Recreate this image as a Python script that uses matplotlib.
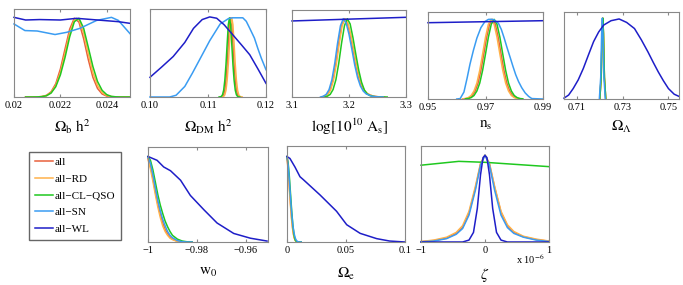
import matplotlib.pyplot as plt
from matplotlib.lines import Line2D

plt.rcParams['font.family'] = ['Liberation Serif', 'DejaVu Serif']
plt.rcParams['mathtext.fontset'] = 'stix'

# series names / colours
NAMES = ['all', 'all\u2212RD', 'all\u2212CL\u2212QSO', 'all\u2212SN', 'all\u2212WL']
COLORS = ['#E8603C', '#FFB24A', '#1FC81F', '#3A9CF2', '#1E1EC8']

# ---- Omega_b h^2 ----
OB_X = [0.0205, 0.0208, 0.0210, 0.0212, 0.0214, 0.0216, 0.0218, 0.0220, 0.0222, 0.0224, 0.0226,
        0.0228, 0.0230, 0.0232, 0.0234, 0.0236, 0.0238, 0.0240, 0.0242, 0.0244, 0.0246, 0.0250]
OB_ALL = [0, 0, 0.001, 0.005, 0.019, 0.059, 0.151, 0.319, 0.546, 0.771, 0.895,
          0.851, 0.664, 0.428, 0.224, 0.097, 0.034, 0.010, 0.003, 0, 0, 0]
OB_RD = [0, 0, 0.001, 0.005, 0.016, 0.051, 0.132, 0.279, 0.495, 0.729, 0.878,
         0.878, 0.729, 0.495, 0.279, 0.132, 0.051, 0.016, 0.005, 0.001, 0, 0]
OB_CL = [0, 0, 0.001, 0.004, 0.014, 0.045, 0.117, 0.252, 0.450, 0.684, 0.855,
         0.895, 0.783, 0.567, 0.347, 0.176, 0.075, 0.026, 0.007, 0.002, 0, 0]
OB_SN_X = [0.0200, 0.02047, 0.0210, 0.02177, 0.02227, 0.02284, 0.02356, 0.0242, 0.0245, 0.0250]
OB_SN = [0.83, 0.755, 0.75, 0.71, 0.735, 0.78, 0.87, 0.905, 0.87, 0.72]
OB_WL_X = [0.0200, 0.0205, 0.0211, 0.0220, 0.0227, 0.0236, 0.0245, 0.0250]
OB_WL = [0.905, 0.875, 0.88, 0.875, 0.894, 0.875, 0.856, 0.837]

# ---- Omega_DM h^2 ----
NARROW_DM = [0, 0.002, 0.007, 0.025, 0.077, 0.19, 0.37, 0.60, 0.82, 0.90,
             0.82, 0.60, 0.37, 0.19, 0.077, 0.025, 0.007, 0.002, 0]
DM_ALL_X = [0.1121, 0.1123, 0.1125, 0.1127, 0.1129, 0.1131, 0.1133, 0.1135, 0.1137, 0.1139,
            0.1141, 0.1143, 0.1145, 0.1147, 0.1149, 0.1151, 0.1153, 0.1155, 0.1157]
DM_RD_X = [0.1123, 0.1125, 0.1127, 0.1129, 0.1131, 0.1133, 0.1135, 0.1137, 0.1139, 0.1141,
           0.1143, 0.1145, 0.1147, 0.1149, 0.1151, 0.1153, 0.1155, 0.1157, 0.1159]
DM_CL_X = [0.1119, 0.1121, 0.1123, 0.1125, 0.1127, 0.1129, 0.1131, 0.1133, 0.1135, 0.1137,
           0.1139, 0.1141, 0.1143, 0.1145, 0.1147, 0.1149, 0.1151, 0.1153, 0.1155]
DM_SN_X = [0.100, 0.1034, 0.1045, 0.106, 0.1073, 0.1086, 0.1103, 0.1121, 0.1135, 0.1142,
           0.1160, 0.1166, 0.1172, 0.1180, 0.1186, 0.1192, 0.1200]
DM_SN = [0, 0, 0.02, 0.12, 0.27, 0.43, 0.64, 0.83, 0.89, 0.90, 0.90, 0.86, 0.78, 0.67, 0.55, 0.44, 0.31]
DM_WL_X = [0.100, 0.102, 0.104, 0.106, 0.1075, 0.109, 0.1103, 0.1115, 0.1128, 0.1143,
           0.1158, 0.1172, 0.1186, 0.1200]
DM_WL = [0.224, 0.34, 0.46, 0.62, 0.78, 0.88, 0.91, 0.895, 0.82, 0.705, 0.59, 0.48, 0.32, 0.155]

# ---- log[10^10 A_s] ----
AS_PROFILE = [0, 0.009, 0.030, 0.085, 0.198, 0.387, 0.621, 0.819, 0.90, 0.851, 0.72,
              0.549, 0.369, 0.225, 0.126, 0.068, 0.036, 0.009, 0.002, 0]
AS_CL = [0, 0.009, 0.030, 0.085, 0.198, 0.387, 0.621, 0.819, 0.90, 0.84, 0.68,
         0.49, 0.31, 0.17, 0.08, 0.035, 0.015, 0.002, 0, 0]
AS_ALL_X = [3.152, 3.157, 3.162, 3.167, 3.172, 3.177, 3.182, 3.187, 3.192, 3.197, 3.202,
            3.207, 3.212, 3.217, 3.222, 3.227, 3.232, 3.242, 3.252, 3.262]
AS_RD_X = [3.153, 3.158, 3.163, 3.168, 3.173, 3.178, 3.183, 3.188, 3.193, 3.198, 3.203,
           3.208, 3.213, 3.218, 3.223, 3.228, 3.233, 3.243, 3.253, 3.263]
AS_CL_X = [3.157, 3.162, 3.167, 3.172, 3.177, 3.182, 3.187, 3.192, 3.197, 3.202, 3.207,
           3.212, 3.217, 3.222, 3.227, 3.232, 3.237, 3.247, 3.257, 3.267]
AS_SN_X = [3.150, 3.155, 3.160, 3.165, 3.170, 3.175, 3.180, 3.185, 3.190, 3.195, 3.200,
           3.205, 3.210, 3.215, 3.220, 3.225, 3.230, 3.240, 3.250, 3.260]
AS_WL_X = [3.1, 3.3]
AS_WL = [0.874, 0.916]

# ---- n_s ----
NS_PROFILE = [0.002, 0.005, 0.016, 0.04, 0.092, 0.183, 0.33, 0.517, 0.71, 0.859, 0.916,
              0.859, 0.71, 0.517, 0.33, 0.183, 0.092, 0.04, 0.016, 0.005, 0.002]
NS_ALL_X = [0.9624, 0.9634, 0.9644, 0.9654, 0.9664, 0.9674, 0.9684, 0.9694, 0.9704, 0.9714, 0.9724,
            0.9734, 0.9744, 0.9754, 0.9764, 0.9774, 0.9784, 0.9794, 0.9804, 0.9814, 0.9824]
NS_RD_X = [0.9620, 0.9630, 0.9640, 0.9650, 0.9660, 0.9670, 0.9680, 0.9690, 0.9700, 0.9710, 0.9720,
           0.9730, 0.9740, 0.9750, 0.9760, 0.9770, 0.9780, 0.9790, 0.9800, 0.9810, 0.9820]
NS_CL_X = [0.9630, 0.9640, 0.9650, 0.9660, 0.9670, 0.9680, 0.9690, 0.9700, 0.9710, 0.9720, 0.9730,
           0.9740, 0.9750, 0.9760, 0.9770, 0.9780, 0.9790, 0.9800, 0.9810, 0.9820, 0.9830]
NS_SN_X = [0.9600, 0.9612, 0.9625, 0.9636, 0.9646, 0.9658, 0.9670, 0.9684, 0.9698, 0.9710, 0.9720,
           0.9730, 0.9745, 0.9755, 0.9765, 0.9775, 0.9785, 0.9795, 0.9805, 0.9815, 0.9826,
           0.9838, 0.9850, 0.9861, 0.9900]
NS_SN = [0, 0.005, 0.08, 0.24, 0.40, 0.56, 0.70, 0.82, 0.89, 0.915, 0.916,
         0.91, 0.87, 0.80, 0.70, 0.59, 0.486, 0.38, 0.28, 0.20, 0.13, 0.07, 0.03, 0.005, 0]
NS_WL_X = [0.95, 0.99]
NS_WL = [0.877, 0.90]

# ---- Omega_Lambda ----
OL_SPIKE = [0, 0.25, 0.75, 0.93, 0.75, 0.25, 0]
OL_SPIKE_X = [0.7201, 0.7207, 0.7211, 0.7214, 0.7217, 0.7221, 0.7227]
OL_SN_X = [0.7199, 0.7205, 0.7209, 0.7212, 0.7215, 0.7219, 0.7225]
OL_WL_X = [0.7045, 0.7065, 0.7085, 0.7107, 0.7129, 0.7152, 0.7174, 0.7196, 0.7218, 0.7250, 0.7285,
           0.7318, 0.7352, 0.7382, 0.7411, 0.7434, 0.7456, 0.7478, 0.7500, 0.7525, 0.7546]
OL_WL = [0.01, 0.045, 0.12, 0.22, 0.35, 0.51, 0.66, 0.77, 0.85, 0.90, 0.92,
         0.88, 0.81, 0.68, 0.54, 0.42, 0.31, 0.21, 0.12, 0.055, 0.03]

# ---- w_0 ----
W0_X = [-1.0, -0.999, -0.998, -0.997, -0.996, -0.995, -0.994, -0.993, -0.992, -0.991, -0.990,
        -0.988, -0.986, -0.984, -0.982]
W0_ALL = [0.88, 0.80, 0.67, 0.53, 0.40, 0.29, 0.20, 0.13, 0.085, 0.05, 0.03, 0.008, 0, 0, 0]
W0_RD = [0.87, 0.77, 0.64, 0.50, 0.37, 0.26, 0.17, 0.11, 0.07, 0.04, 0.025, 0.005, 0, 0, 0]
W0_CL = [0.90, 0.86, 0.76, 0.63, 0.50, 0.39, 0.30, 0.22, 0.16, 0.11, 0.07, 0.03, 0.01, 0.002, 0]
W0_SN = [0.89, 0.83, 0.71, 0.57, 0.44, 0.33, 0.24, 0.17, 0.11, 0.07, 0.045, 0.015, 0.003, 0, 0]
W0_WL_X = [-1.0, -0.9963, -0.9936, -0.9908, -0.9867, -0.9827, -0.9772, -0.9718, -0.9650,
           -0.9582, -0.9514]
W0_WL = [0.90, 0.86, 0.79, 0.75, 0.65, 0.49, 0.34, 0.20, 0.09, 0.04, 0.01]

# ---- Omega_e ----
OE_X = [0, 0.001, 0.002, 0.003, 0.004, 0.005, 0.006, 0.007, 0.008, 0.009, 0.010, 0.012]
OE_ALL = [0.89, 0.76, 0.58, 0.40, 0.24, 0.12, 0.05, 0.02, 0.005, 0, 0, 0]
OE_RD = [0.88, 0.74, 0.55, 0.37, 0.22, 0.11, 0.045, 0.015, 0.004, 0, 0, 0]
OE_CL = [0.89, 0.82, 0.68, 0.50, 0.32, 0.17, 0.07, 0.02, 0.005, 0, 0, 0]
OE_SN = [0.89, 0.80, 0.64, 0.46, 0.30, 0.17, 0.09, 0.04, 0.015, 0.005, 0, 0]
OE_WL_X = [0, 0.0025, 0.0068, 0.011, 0.0138, 0.028, 0.042, 0.0506, 0.062, 0.076, 0.087, 0.1]
OE_WL = [0.89, 0.87, 0.78, 0.68, 0.65, 0.49, 0.32, 0.18, 0.09, 0.035, 0.01, 0.0]

# ---- zeta (in units of 1e-6) ----
ZE_X = [-1.0, -0.8, -0.6, -0.45, -0.35, -0.25, -0.15, -0.07, 0, 0.07, 0.15, 0.25, 0.35, 0.45,
        0.6, 0.8, 1.0]
ZE_ALL = [0.003, 0.015, 0.04, 0.09, 0.15, 0.30, 0.56, 0.81, 0.906, 0.81, 0.57, 0.31, 0.17,
          0.10, 0.055, 0.025, 0.008]
ZE_RD = [0.005, 0.02, 0.05, 0.10, 0.17, 0.32, 0.58, 0.82, 0.906, 0.82, 0.58, 0.32, 0.18,
         0.11, 0.06, 0.03, 0.01]
ZE_SN = [0.002, 0.01, 0.035, 0.08, 0.14, 0.28, 0.54, 0.80, 0.906, 0.80, 0.54, 0.28, 0.15,
         0.09, 0.05, 0.02, 0.005]
ZE_CL_X = [-1.0, -0.41, 0, 1.0]
ZE_CL = [0.80, 0.84, 0.83, 0.785]
ZE_WL_X = [-1.0, -0.35, -0.25, -0.18, -0.12, -0.07, -0.03, 0, 0.03, 0.07, 0.12, 0.18, 0.25, 0.35, 1.0]
ZE_WL = [0, 0, 0.02, 0.10, 0.35, 0.70, 0.88, 0.90, 0.88, 0.70, 0.35, 0.10, 0.02, 0, 0]

W, H = 683, 285
fig = plt.figure(figsize=(W / 100, H / 100), dpi=100)


def panel(box, xlim, ticks, ticklabels, label, curves, pad=5):
    x0, y0, x1, y1 = box
    ax = fig.add_axes([x0 / W, 1 - y1 / H, (x1 - x0) / W, (y1 - y0) / H])
    for (xs, ys), c in zip(curves, COLORS):
        ax.plot(xs, ys, color=c, lw=1.1, clip_on=False)
    ax.set_xlim(*xlim)
    ax.set_ylim(0, 1)
    ax.set_yticks([])
    ax.set_xticks(ticks)
    ax.set_xticklabels(ticklabels, fontsize=7.5)
    ax.tick_params(axis='x', direction='in', length=2.5, color='#888888', top=True, pad=3)
    for s in ax.spines.values():
        s.set_color('#888888')
        s.set_linewidth(0.8)
    ax.set_xlabel(label, fontsize=11, labelpad=pad)
    return ax


panel((14, 9, 130, 97), (0.02, 0.025), [0.02, 0.022, 0.024], ['0.02', '0.022', '0.024'],
      r'$\Omega_{\rm b}\ {\rm h}^2$',
      [(OB_X, OB_ALL), (OB_X, OB_RD), (OB_X, OB_CL), (OB_SN_X, OB_SN), (OB_WL_X, OB_WL)])
panel((150, 9, 266, 97), (0.10, 0.12), [0.10, 0.11, 0.12], ['0.10', '0.11', '0.12'],
      r'$\Omega_{\rm DM}\ {\rm h}^2$',
      [(DM_ALL_X, NARROW_DM), (DM_RD_X, NARROW_DM), (DM_CL_X, NARROW_DM), (DM_SN_X, DM_SN),
       (DM_WL_X, DM_WL)])
panel((292, 10, 406, 97), (3.1, 3.3), [3.1, 3.2, 3.3], ['3.1', '3.2', '3.3'],
      r'${\rm log[10^{10}\ A_s]}$',
      [(AS_ALL_X, AS_PROFILE), (AS_RD_X, AS_PROFILE), (AS_CL_X, AS_CL), (AS_SN_X, AS_PROFILE),
       (AS_WL_X, AS_WL)])
panel((428, 12, 543, 99), (0.95, 0.99), [0.95, 0.97, 0.99], ['0.95', '0.97', '0.99'],
      r'${\rm n_s}$',
      [(NS_ALL_X, NS_PROFILE), (NS_RD_X, NS_PROFILE), (NS_CL_X, NS_PROFILE), (NS_SN_X, NS_SN),
       (NS_WL_X, NS_WL)])
panel((564, 12, 679, 99), (0.7045, 0.7546), [0.71, 0.73, 0.75], ['0.71', '0.73', '0.75'],
      r'$\Omega_\Lambda$',
      [(OL_SPIKE_X, OL_SPIKE), (OL_SPIKE_X, OL_SPIKE), (OL_SPIKE_X, OL_SPIKE), (OL_SN_X, OL_SPIKE),
       (OL_WL_X, OL_WL)])

panel((148, 147, 268, 242), (-1, -0.951), [-1, -0.98, -0.96], ['\u22121', '\u22120.98', '\u22120.96'],
      r'${\rm w}_0$',
      [(W0_X, W0_ALL), (W0_X, W0_RD), (W0_X, W0_CL), (W0_X, W0_SN), (W0_WL_X, W0_WL)], pad=8)
panel((287, 146, 405, 242), (0, 0.1), [0, 0.05, 0.1], ['0', '0.05', '0.1'],
      r'$\Omega_{\rm e}$',
      [(OE_X, OE_ALL), (OE_X, OE_RD), (OE_X, OE_CL), (OE_X, OE_SN), (OE_WL_X, OE_WL)], pad=8)
axz = panel((421, 146, 549, 242), (-1, 1), [-1, 0, 1], ['\u22121', '0', '1'],
            r'$\zeta$',
            [(ZE_X, ZE_ALL), (ZE_X, ZE_RD), (ZE_CL_X, ZE_CL), (ZE_X, ZE_SN), (ZE_WL_X, ZE_WL)], pad=8)
fig.text(545 / W, 1 - 264 / H, r'x 10$^{-6}$', fontsize=7.5, ha='right')

handles = [Line2D([], [], color=c, lw=1.1) for c in COLORS]
fig.legend(handles, NAMES, loc='upper left', bbox_to_anchor=(29 / W, 1 - 152 / H),
           fontsize=8, frameon=True, fancybox=False, edgecolor='#666666', framealpha=1,
           handlelength=1.7, handletextpad=0.1, labelspacing=0.62, borderpad=0.5,
           borderaxespad=0)

fig.savefig('out.png', dpi=100)
